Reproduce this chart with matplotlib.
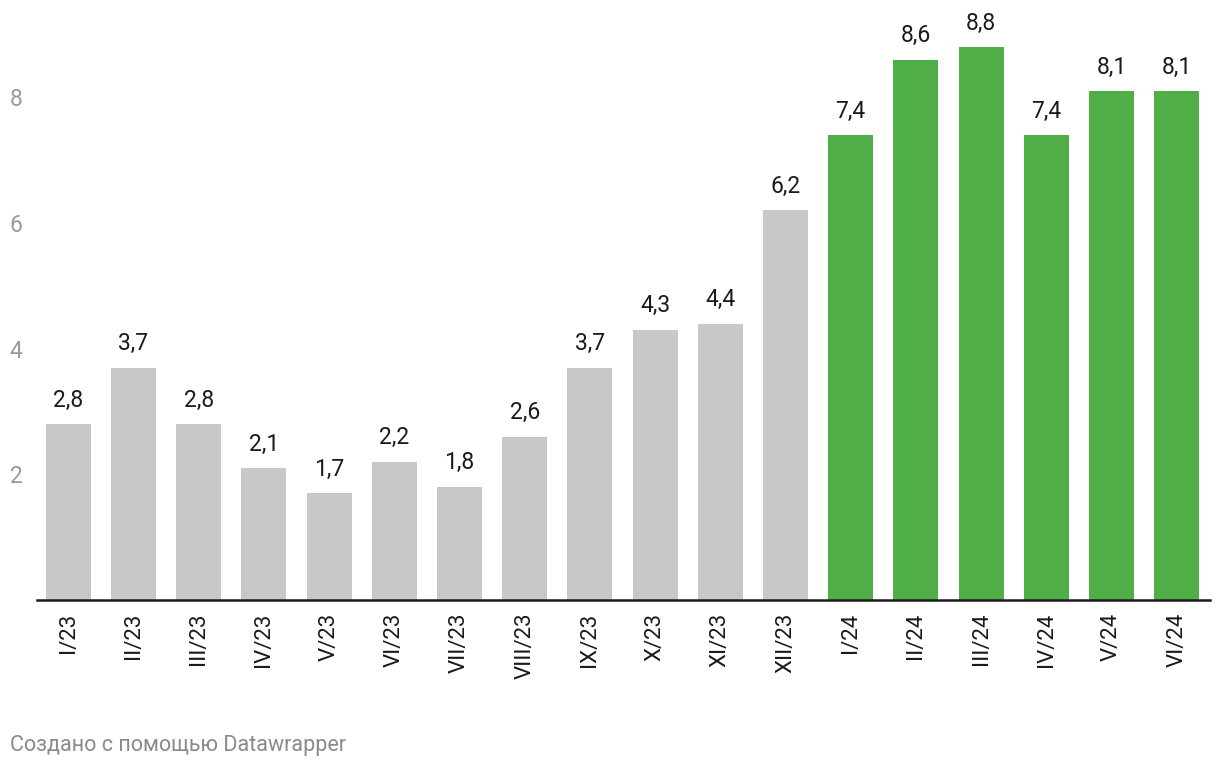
import matplotlib.pyplot as plt

plt.rcParams['font.family'] = ['Roboto', 'DejaVu Sans']

labels = ['I/23', 'II/23', 'III/23', 'IV/23', 'V/23', 'VI/23', 'VII/23', 'VIII/23',
          'IX/23', 'X/23', 'XI/23', 'XII/23',
          'I/24', 'II/24', 'III/24', 'IV/24', 'V/24', 'VI/24']
values = [2.8, 3.7, 2.8, 2.1, 1.7, 2.2, 1.8, 2.6, 3.7, 4.3, 4.4, 6.2,
          7.4, 8.6, 8.8, 7.4, 8.1, 8.1]
years = ['23'] * 12 + ['24'] * 6

gray = '#c8c8c8'
green = '#4fae47'
colors = [green if y == '24' else gray for y in years]

fig = plt.figure(figsize=(12.2, 7.68), dpi=100)
ax = fig.add_axes([37 / 1220, (768 - 600) / 768, (1210 - 37) / 1220, 580 / 768])

x = range(len(values))
ax.bar(x, values, width=0.69, color=colors, zorder=2)

for i, v in zip(x, values):
    ax.annotate(f'{v:.1f}'.replace('.', ','), (i, v), xytext=(0, 9),
                textcoords='offset points', ha='center', va='bottom',
                fontsize=16.5, color='#1a1a1a')

ax.set_xlim(-0.48, 17.51)
ax.set_ylim(0, 580 / 62.83)

ax.set_xticks(list(x))
ax.set_xticklabels(labels, rotation=90, fontsize=16, color='#1a1a1a')
ax.tick_params(axis='x', length=0, pad=9)

ax.set_yticks([2, 4, 6, 8])
ax.set_yticklabels(['2', '4', '6', '8'], fontsize=16.5, color='#9a9a9a')
ax.tick_params(axis='y', length=0, pad=19.5)
for t in ax.get_yticklabels():
    t.set_horizontalalignment('left')

for s in ['top', 'right', 'left']:
    ax.spines[s].set_visible(False)
ax.spines['bottom'].set_linewidth(1.8)
ax.spines['bottom'].set_color('#1a1a1a')
ax.spines['bottom'].set_zorder(3)

fig.text(10 / 1220, 1 - 745 / 768, 'Создано с помощью Datawrapper',
         fontsize=15.5, color='#8a8a8a', ha='left', va='center')

fig.savefig('out.png', dpi=100)
